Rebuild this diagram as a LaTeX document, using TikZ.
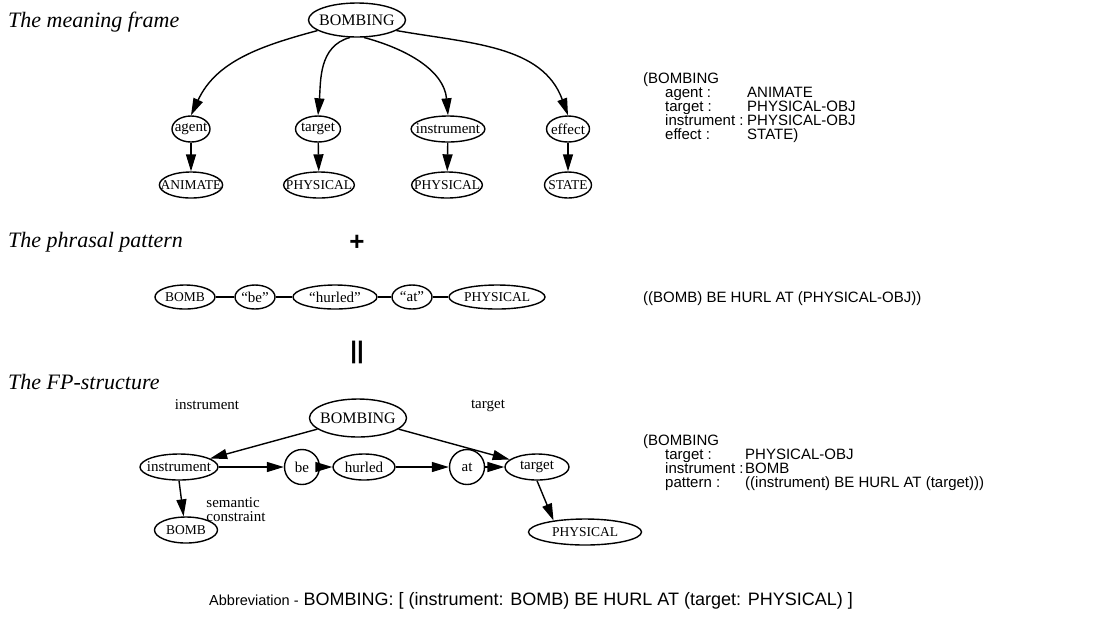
\documentclass[tikz,border=0pt]{standalone}
\usepackage{fontspec}
\setmainfont{Liberation Serif}
\setsansfont{Liberation Sans}
\usetikzlibrary{shapes.geometric,arrows.meta,positioning}

\begin{document}
\begin{tikzpicture}[x=1pt,y=1pt]
	\tikzstyle{concept} = [ellipse, draw, line width=1.4pt, inner xsep=-6pt, inner ysep=-20pt, minimum width=38pt, minimum height=26pt, font=\fontsize{15}{15}\selectfont]
	\tikzstyle{capconcept} = [concept, inner xsep=-8pt, font=\fontsize{13.5}{13.5}\selectfont]
	\tikzstyle{bigconcept} = [concept, minimum width=97pt, minimum height=34pt, font=\fontsize{16}{16}\selectfont]
	\tikzstyle{wordnode} = [circle, draw, line width=1.4pt, inner sep=0pt, minimum size=35pt, font=\fontsize{15}{15}\selectfont]
	\tikzstyle{heading} = [anchor=base west, inner sep=0pt, font=\fontsize{22}{22}\selectfont\itshape]
	\tikzstyle{lisp} = [anchor=base west, inner sep=0pt, font=\sffamily\fontsize{15}{15}\selectfont]
	\tikzstyle{slotlabel} = [inner sep=0pt, font=\fontsize{15}{15}\selectfont]
	\tikzstyle{link} = [line width=1.4pt, -{Triangle[length=17pt,width=10pt]}]
	\tikzstyle{joint} = [line width=1.4pt]

	\useasboundingbox (0,0) rectangle (1107,-641);

	% the meaning frame
	\node[heading] (hmeaning) at (8,-27) {The meaning frame};
	\node[bigconcept] (bomb) at (357,-20) {BOMBING};
	\node[concept] (agent) at (191,-129) {agent};
	\node[concept, minimum width=45pt] (target) at (318,-129) {target};
	\node[concept] (instr) at (448,-129) {instrument};
	\node[concept, minimum width=43pt] (effect) at (568,-129) {effect};
	\node[capconcept] (animate) at (191,-185) {ANIMATE};
	\node[capconcept] (physa) at (319,-185) {PHYSICAL};
	\node[capconcept] (physb) at (447,-185) {PHYSICAL};
	\node[capconcept, minimum width=47pt] (state) at (568,-185) {STATE};

	\draw[link] (bomb.195) to[out=195,in=65] (agent.north);
	\draw[link] (bomb.248) to[out=195,in=85] (target.north);
	\draw[link] (bomb.292) to[out=-15,in=95] (instr.north);
	\draw[link] (bomb.345) to[out=-10,in=110] (effect.north);
	\draw[link] (agent) -- (animate);
	\draw[link] (target) -- (physa);
	\draw[link] (instr) -- (physb);
	\draw[link] (effect) -- (state);

	\node[lisp] (lmeaning) at (643,-83) {(BOMBING};
	\node[lisp] (lagent) at (665,-97) {\makebox[82pt][l]{agent :}ANIMATE};
	\node[lisp] (ltarget) at (665,-111) {\makebox[82pt][l]{target :}PHYSICAL-OBJ};
	\node[lisp] (linstr) at (665,-125) {\makebox[82pt][l]{instrument :}PHYSICAL-OBJ};
	\node[lisp] (leffect) at (665,-139) {\makebox[82pt][l]{effect :}STATE)};

	% the phrasal pattern
	\node[font=\sffamily\bfseries\fontsize{26}{26}\selectfont] (plus) at (357,-243) {+};
	\node[heading] (hphrasal) at (8,-247) {The phrasal pattern};
	\node[capconcept, minimum width=60pt, minimum height=24pt] (pbomb) at (185,-297) {BOMB};
	\node[concept, minimum width=40pt, minimum height=24pt] (pbe) at (255,-297) {``be''};
	\node[concept, minimum width=84pt, minimum height=24pt] (phurled) at (335,-297) {``hurled''};
	\node[concept, minimum width=40pt, minimum height=24pt] (pat) at (412,-297) {``at''};
	\node[capconcept, minimum width=96pt, minimum height=24pt] (pphys) at (497,-297) {PHYSICAL};
	\draw[joint] (pbomb) -- (pbe) -- (phurled) -- (pat) -- (pphys);

	\node[lisp] (lphrase) at (643,-302) {((BOMB) BE HURL AT (PHYSICAL-OBJ))};

	% the FP-structure
	\node[font=\sffamily\bfseries\fontsize{24}{24}\selectfont] (equal) at (357,-352) {||};
	\node[heading] (hfp) at (8,-389) {The FP-structure};
	\node[bigconcept, minimum height=38pt] (fbomb) at (358,-418) {BOMBING};
	\node[concept, minimum width=78pt] (finstr) at (179,-467) {instrument};
	\node[wordnode] (fbe) at (302,-467) {be};
	\node[concept, minimum width=62pt] (fhurled) at (364,-467) {hurled};
	\node[wordnode] (fat) at (467,-467) {at};
	\node[concept, minimum width=64pt] (ftarget) at (537,-467) {target};
	\node[capconcept, minimum width=63pt] (fbombc) at (186,-530) {BOMB};
	\node[capconcept, minimum width=113pt] (fphys) at (585,-532) {PHYSICAL};

	\draw[link] (fbomb) -- (finstr);
	\draw[link] (fbomb) -- (ftarget);
	\draw[link] (finstr) -- (fbe);
	\draw[link] (fbe) -- (fhurled);
	\draw[link] (fhurled) -- (fat);
	\draw[link] (fat) -- (ftarget);
	\draw[link] (finstr.south) -- (fbombc.100);
	\draw[link] (ftarget.south) -- (fphys.160);

	\node[slotlabel] (sinstr) at (207,-405) {instrument};
	\node[slotlabel] (starget) at (488,-406) {target};
	\node[slotlabel, align=left, font=\fontsize{15}{14}\selectfont] (ssem) at (236,-510) {semantic\\constraint};

	\node[lisp] (lfp) at (643,-445) {(BOMBING};
	\node[lisp] (lftarget) at (665,-459) {\makebox[80pt][l]{target :}PHYSICAL-OBJ};
	\node[lisp] (lfinstr) at (665,-473) {\makebox[80pt][l]{instrument :}BOMB};
	\node[lisp] (lfpat) at (665,-487) {\makebox[80pt][l]{pattern :}((instrument) BE HURL AT (target)))};

	\node[lisp, anchor=center, font=\sffamily\fontsize{18}{18}\selectfont] (abbrev) at (531,-601) {{\fontsize{14.5}{14.5}\selectfont Abbreviation -} BOMBING: [ (instrument: BOMB) BE HURL AT (target: PHYSICAL) ]};
\end{tikzpicture}
\end{document}
